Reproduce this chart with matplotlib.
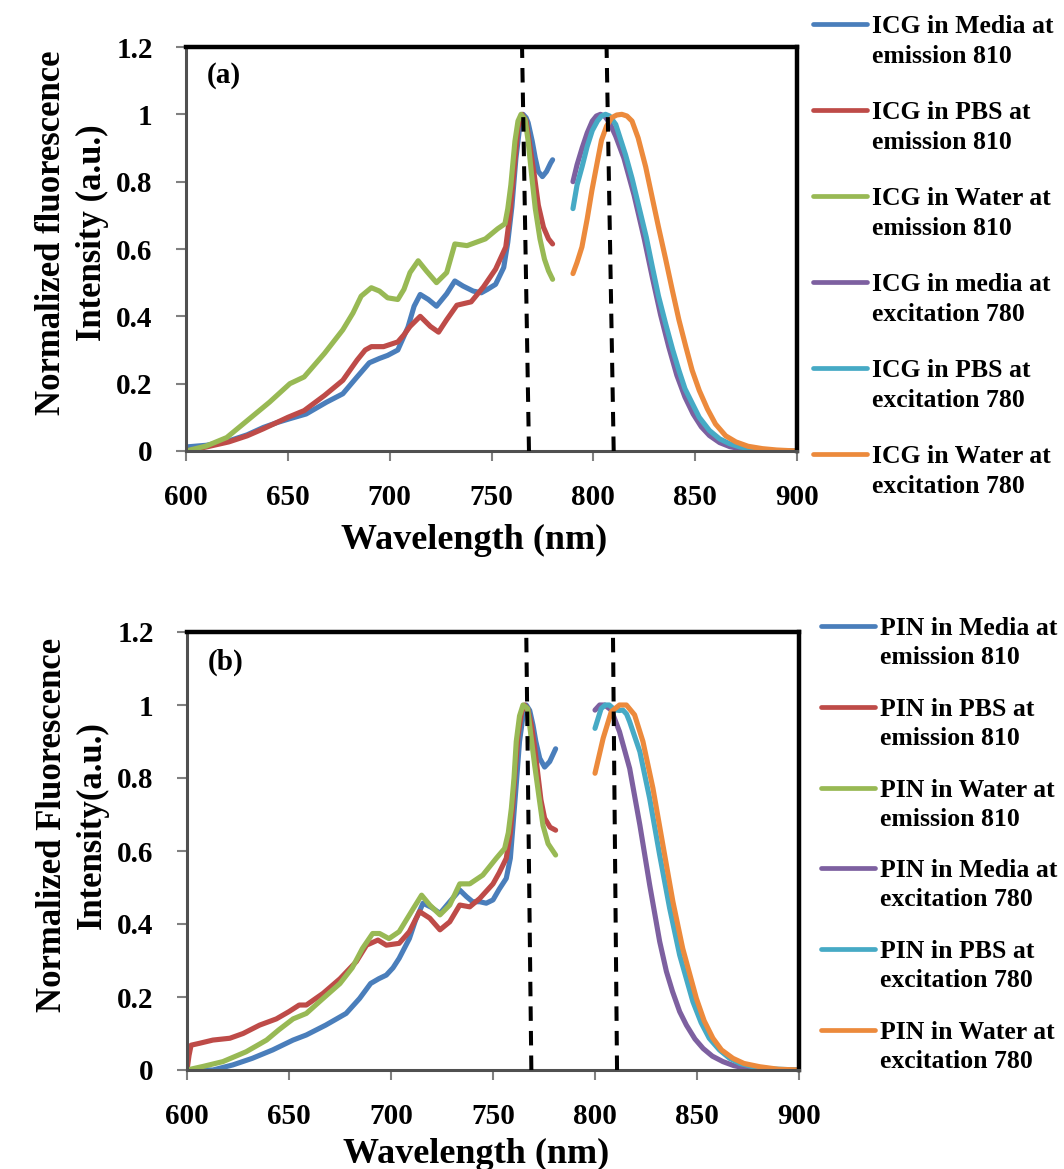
import matplotlib
matplotlib.use('Agg')
import matplotlib.pyplot as plt
from matplotlib.lines import Line2D

plt.rcParams['font.family'] = ['Liberation Serif', 'DejaVu Serif']
plt.rcParams['font.weight'] = 'bold'

# ============================================================================
# Data: panel (a) ICG
# ============================================================================
icg_media_em_x = [600, 610, 621, 630, 638, 645, 651, 659, 669, 677, 684, 690, 695, 699, 704, 709, 712,
                  715, 719, 723, 728, 732, 736, 741, 745, 748, 752, 756, 758, 760, 762, 764, 765.5, 767,
                  768, 770, 771.5, 773, 775, 777, 779, 780]
icg_media_em_y = [0.012, 0.017, 0.03, 0.048, 0.07, 0.085, 0.096, 0.11, 0.145, 0.17, 0.22, 0.262, 0.275,
                  0.284, 0.30, 0.368, 0.43, 0.465, 0.45, 0.43, 0.467, 0.505, 0.49, 0.475, 0.47, 0.48,
                  0.495, 0.545, 0.62, 0.725, 0.87, 0.97, 1.0, 0.99, 0.975, 0.92, 0.87, 0.83, 0.815,
                  0.83, 0.855, 0.865]

icg_pbs_em_x = [600, 610, 621, 630, 638, 644, 650, 658, 668, 677, 684, 688, 691, 697, 704, 707, 710, 715,
                720, 724, 728, 733, 740, 746, 752, 757, 759, 761, 763, 765, 767, 769, 771, 773, 775.5,
                778, 780]
icg_pbs_em_y = [0.0, 0.012, 0.027, 0.045, 0.066, 0.083, 0.10, 0.12, 0.165, 0.21, 0.27, 0.30, 0.31, 0.31,
                0.324, 0.345, 0.37, 0.40, 0.37, 0.353, 0.39, 0.433, 0.443, 0.487, 0.54, 0.606, 0.70,
                0.83, 0.96, 1.0, 0.98, 0.90, 0.82, 0.73, 0.665, 0.63, 0.615]

icg_water_em_x = [600, 610, 620, 630, 641, 651, 658, 668, 677, 682, 686, 691, 695, 699, 704, 707, 710,
                  714, 718, 723, 728, 732, 738, 747, 753, 756.6, 758, 759.5, 761.5, 763, 764.5, 766.5,
                  768, 769.7, 771.5, 773.8, 776, 778, 780]
icg_water_em_y = [0.0, 0.015, 0.04, 0.09, 0.145, 0.2, 0.22, 0.29, 0.36, 0.41, 0.46, 0.485, 0.475, 0.455,
                  0.45, 0.48, 0.53, 0.565, 0.535, 0.50, 0.53, 0.615, 0.61, 0.63, 0.66, 0.675, 0.72,
                  0.79, 0.92, 0.98, 1.0, 0.985, 0.92, 0.82, 0.72, 0.63, 0.57, 0.535, 0.51]

icg_media_ex_x = [790, 792, 794.5, 797, 799.5, 801.5, 803.5, 805.5, 808, 811, 815, 820, 825, 829, 833,
                  837, 841, 845, 849, 853, 857, 862, 867, 872, 877, 885, 892, 900]
icg_media_ex_y = [0.80, 0.85, 0.90, 0.945, 0.98, 0.995, 1.0, 0.995, 0.975, 0.935, 0.87, 0.76, 0.63,
                  0.515, 0.405, 0.31, 0.225, 0.16, 0.11, 0.072, 0.046, 0.025, 0.013, 0.007, 0.003,
                  0.001, 0.0, 0.0]

icg_pbs_ex_x = [790, 792, 794.5, 797, 799.5, 802, 804, 806, 808, 811, 815.8, 819, 822.4, 826, 829, 832,
                835.5, 839, 842, 845, 848.7, 852, 857, 862, 866.8, 872, 876.6, 885, 892, 900]
icg_pbs_ex_y = [0.72, 0.79, 0.845, 0.905, 0.952, 0.98, 0.995, 1.0, 0.995, 0.97, 0.88, 0.81, 0.725, 0.635,
                0.546, 0.46, 0.378, 0.30, 0.24, 0.185, 0.14, 0.10, 0.061, 0.036, 0.022, 0.012, 0.007,
                0.002, 0.0, 0.0]

icg_water_ex_x = [790, 792, 794.4, 797, 799.3, 802, 804, 806.5, 809, 811.5, 814, 816.5, 819, 822, 825.7,
                  829, 832, 835.5, 838.8, 842, 845.4, 848.5, 852, 856, 860, 865, 870, 876, 883, 890, 900]
icg_water_ex_y = [0.527, 0.56, 0.606, 0.69, 0.774, 0.86, 0.923, 0.965, 0.99, 0.998, 1.0, 0.995, 0.98,
                  0.93, 0.844, 0.75, 0.665, 0.57, 0.477, 0.39, 0.31, 0.24, 0.18, 0.125, 0.08, 0.045,
                  0.027, 0.014, 0.007, 0.003, 0.0]

# ============================================================================
# Data: panel (b) PIN
# ============================================================================
pin_media_em_x = [600, 605, 612.7, 622.5, 632, 642, 652, 658.5, 668, 678, 684.6, 690, 694, 697.7, 701,
                  704, 709, 712, 715.7, 720, 724, 728.8, 733.7, 737, 740, 743.5, 746.7, 750, 753, 756.5,
                  758.5, 759.8, 761.5, 763, 764.7, 766.3, 768, 769.6, 771, 772.9, 775.3, 777.8, 780.7]
pin_media_em_y = [0.0, 0.0, 0.0, 0.014, 0.032, 0.055, 0.082, 0.096, 0.123, 0.155, 0.196, 0.237, 0.25,
                  0.26, 0.28, 0.306, 0.36, 0.41, 0.457, 0.445, 0.429, 0.461, 0.493, 0.475, 0.461, 0.461,
                  0.457, 0.466, 0.495, 0.525, 0.58, 0.67, 0.79, 0.90, 0.97, 1.0, 0.985, 0.945, 0.9,
                  0.854, 0.83, 0.845, 0.88]

pin_pbs_em_x = [600, 601, 602, 606, 612.7, 621, 627.5, 635.6, 643.8, 650, 655, 658.5, 666.7, 675, 683,
                688, 693.6, 697.7, 704, 709, 714, 719, 724, 728.8, 733.7, 738.6, 743.5, 750, 753, 756.5,
                758.5, 759.8, 761, 762.3, 764, 765.5, 767, 768.8, 770.5, 772, 773.5, 775.3, 778, 780.7]
pin_pbs_em_y = [0.0, 0.04, 0.068, 0.073, 0.082, 0.087, 0.10, 0.123, 0.14, 0.16, 0.178, 0.178, 0.21,
                0.25, 0.297, 0.342, 0.356, 0.342, 0.347, 0.379, 0.434, 0.416, 0.384, 0.406, 0.452,
                0.447, 0.47, 0.51, 0.54, 0.58, 0.65, 0.735, 0.83, 0.918, 0.98, 1.0, 0.99, 0.945, 0.88,
                0.81, 0.74, 0.69, 0.665, 0.657]

pin_water_em_x = [600, 608, 617.6, 629, 639, 645, 652, 658.5, 666.7, 675, 681, 686, 691, 694.4, 699,
                  704, 711, 715, 719, 724, 728.8, 733.7, 738.6, 745, 751.6, 755.7, 757.5, 759, 760.3,
                  761.4, 763, 764.7, 766, 767, 768.5, 770.4, 772.5, 774.5, 777, 780.7]
pin_water_em_y = [0.0, 0.01, 0.023, 0.05, 0.082, 0.11, 0.14, 0.155, 0.196, 0.237, 0.28, 0.333, 0.374,
                  0.374, 0.36, 0.379, 0.443, 0.479, 0.452, 0.425, 0.452, 0.51, 0.51, 0.534, 0.58, 0.607,
                  0.65, 0.717, 0.80, 0.90, 0.97, 1.0, 0.995, 0.99, 0.92, 0.836, 0.75, 0.67, 0.62, 0.589]

pin_media_ex_x = [800, 802.3, 804.7, 808, 812, 817, 822, 826.8, 831.7, 835, 838, 841.5, 844.8, 849, 853,
                  857.5, 862.7, 868, 874, 882, 890, 900]
pin_media_ex_y = [0.986, 1.0, 1.0, 0.986, 0.927, 0.826, 0.671, 0.507, 0.352, 0.27, 0.215, 0.16, 0.123,
                  0.085, 0.059, 0.038, 0.023, 0.012, 0.005, 0.002, 0.0, 0.0]

pin_pbs_ex_x = [800, 803, 805, 807, 809, 810.5, 812, 813.7, 815.5, 817, 822, 826.8, 831.7, 836.6, 841.5,
                848, 852, 856, 861, 866, 871, 877.5, 886, 900]
pin_pbs_ex_y = [0.936, 0.99, 1.0, 1.0, 0.99, 0.986, 0.985, 0.986, 0.975, 0.954, 0.872, 0.744, 0.589,
                0.443, 0.315, 0.187, 0.13, 0.087, 0.055, 0.032, 0.018, 0.009, 0.003, 0.0]

pin_water_ex_x = [800, 804, 808, 812, 815.4, 819.4, 823.5, 828.4, 833.3, 838.2, 843, 849.7, 853.5,
                  857.8, 862, 867.6, 873, 880.7, 890, 900]
pin_water_ex_y = [0.813, 0.909, 0.982, 1.0, 1.0, 0.973, 0.90, 0.772, 0.616, 0.461, 0.333, 0.196, 0.135,
                  0.087, 0.055, 0.032, 0.018, 0.009, 0.002, 0.0]

# dashed guide lines (wavelength at bottom, wavelength at top) - slightly slanted in the original
guides_a = [(768.4, 765.0), (810.0, 806.5)]
guides_b = [(768.8, 766.3), (810.8, 808.8)]

labels_a = [('ICG in Media at', 'emission 810'), ('ICG in PBS at', 'emission 810'),
            ('ICG in Water at', 'emission 810'), ('ICG in media at', 'excitation 780'),
            ('ICG in PBS at', 'excitation 780'), ('ICG in Water at', 'excitation 780')]
labels_b = [('PIN in Media at', 'emission 810'), ('PIN in PBS at', 'emission 810'),
            ('PIN in Water at', 'emission 810'), ('PIN in Media at', 'excitation 780'),
            ('PIN in PBS at', 'excitation 780'), ('PIN in Water at', 'excitation 780')]

# Excel-like palette
colors = ['#4A7EBB', '#BE4B48', '#98B954', '#7D60A0', '#46AAC5', '#EC8A3C']

W, H = 1064, 1169
fig = plt.figure(figsize=(W / 100, H / 100), dpi=100)

ax_a = fig.add_axes([186 / W, 1 - 451 / H, 611 / W, 404 / H])
ax_b = fig.add_axes([187 / W, 1 - 1070 / H, 612 / W, 438 / H])

series_a = [(icg_media_em_x, icg_media_em_y), (icg_pbs_em_x, icg_pbs_em_y),
            (icg_water_em_x, icg_water_em_y), (icg_media_ex_x, icg_media_ex_y),
            (icg_pbs_ex_x, icg_pbs_ex_y), (icg_water_ex_x, icg_water_ex_y)]
series_b = [(pin_media_em_x, pin_media_em_y), (pin_pbs_em_x, pin_pbs_em_y),
            (pin_water_em_x, pin_water_em_y), (pin_media_ex_x, pin_media_ex_y),
            (pin_pbs_ex_x, pin_pbs_ex_y), (pin_water_ex_x, pin_water_ex_y)]


def style_axes(ax, ylabel, tag, ylab_y, xlab_y):
    ax.set_xlim(600, 900)
    ax.set_ylim(0, 1.2)
    ax.set_xticks([600, 650, 700, 750, 800, 850, 900])
    ax.set_yticks([0, 0.2, 0.4, 0.6, 0.8, 1.0, 1.2])
    ax.set_yticklabels(['0', '0.2', '0.4', '0.6', '0.8', '1', '1.2'])
    ax.tick_params(axis='both', direction='out', length=7, width=1.5, color='#808080',
                   labelsize=21, pad=17)
    for lab in ax.get_xticklabels() + ax.get_yticklabels():
        lab.set_fontweight('bold')
    for side in ['top', 'right']:
        ax.spines[side].set_color('black')
        ax.spines[side].set_linewidth(3.2)
    for side in ['left', 'bottom']:
        ax.spines[side].set_color('#505050')
        ax.spines[side].set_linewidth(2.2)
    ax.set_xlabel('Wavelength (nm)', fontsize=26, fontweight='bold', va='top')
    ax.xaxis.set_label_coords(0.472, xlab_y)
    ax.set_ylabel(ylabel, fontsize=25, fontweight='bold', va='center', linespacing=1.3)
    ax.yaxis.set_label_coords(-0.187, ylab_y)
    ax.text(0.034, 0.93, tag, transform=ax.transAxes, fontsize=21, fontweight='bold',
            ha='left', va='center')


def draw_panel(ax, series, guides):
    for (x, y), c in zip(series, colors):
        ax.plot(x, y, color=c, linewidth=3.7, solid_joinstyle='round', solid_capstyle='round')
    for x_bot, x_top in guides:
        ax.plot([x_bot, x_top], [0, 1.2], color='black', linewidth=2.9,
                linestyle=(0, (3.6, 2.5)), clip_on=False, zorder=5)


def draw_legend(labels, x0, x1, xt, y_start, step, gap):
    for i, (l1, l2) in enumerate(labels):
        yp = y_start + i * step
        fig.add_artist(Line2D([x0 / W, x1 / W], [1 - yp / H, 1 - yp / H], color=colors[i],
                              linewidth=3.4, solid_capstyle='round'))
        fig.text(xt / W, 1 - yp / H, l1, fontsize=18.5, fontweight='bold', ha='left',
                 va='center_baseline')
        fig.text(xt / W, 1 - (yp + gap) / H, l2, fontsize=18.5, fontweight='bold', ha='left',
                 va='center_baseline')


# ============================================================================
# Panel (a)
# ============================================================================
draw_panel(ax_a, series_a, guides_a)
style_axes(ax_a, 'Normalized fluorescence\nIntensity (a.u.)', '(a)', 0.54, -0.18)
draw_legend(labels_a, 813, 867, 872, 24, 86, 30)

# ============================================================================
# Panel (b)
# ============================================================================
draw_panel(ax_b, series_b, guides_b)
style_axes(ax_b, 'Normalized Fluorescence\nIntensity(a.u.)', '(b)', 0.56, -0.155)
draw_legend(labels_b, 821, 875, 880, 626, 80.8, 29)

fig.savefig('out.png', dpi=100)
print("[OK] Saved: out.png")
